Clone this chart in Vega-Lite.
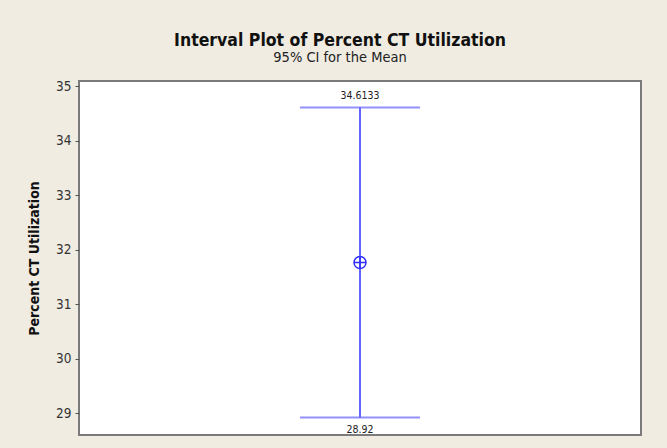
{
  "$schema": "https://vega.github.io/schema/vega-lite/v6.json",
  "autosize": {"type": "none"},
  "width": 562,
  "height": 354,
  "padding": {"left": 79, "top": 81, "right": 26, "bottom": 13},
  "background": "#f0ece2",
  "title": {
    "text": "Interval Plot of Percent CT Utilization",
    "subtitle": "95% CI for the Mean",
    "anchor": "middle",
    "dx": -20,
    "offset": 15,
    "font": "DejaVu Sans Condensed",
    "fontSize": 17.5,
    "fontWeight": "bold",
    "color": "#111111",
    "subtitleFont": "DejaVu Sans Condensed",
    "subtitleFontSize": 14.5,
    "subtitleColor": "#222222",
    "subtitlePadding": 1
  },
  "config": {
    "view": {"stroke": "#7a7a7a", "strokeWidth": 2, "fill": "white"}
  },
  "data": {"values": [{"group": "Percent CT Utilization", "mean": 31.7667, "lower": 28.92, "upper": 34.6133}]},
  "encoding": {
    "x": {"field": "group", "type": "nominal", "axis": null}
  },
  "layer": [
    {
      "mark": {"type": "rule", "color": "#6464ff", "strokeWidth": 2},
      "encoding": {
        "y": {
          "field": "lower", "type": "quantitative",
          "scale": {"domain": [28.6, 35.1], "nice": false, "zero": false},
          "axis": {
            "title": "Percent CT Utilization",
            "titleFont": "DejaVu Sans Condensed",
            "titleFontSize": 14,
            "titleFontWeight": "bold",
            "titleColor": "#111111",
            "titlePadding": 14,
            "values": [29, 30, 31, 32, 33, 34, 35],
            "labelFont": "DejaVu Sans Condensed",
            "labelFontSize": 13.5,
            "labelColor": "#333333",
            "labelPadding": 4,
            "tickSize": 4,
            "tickColor": "#555555",
            "domain": false,
            "grid": false
          }
        },
        "y2": {"field": "upper"}
      }
    },
    {
      "mark": {"type": "tick", "color": "#6464ff", "size": 120, "thickness": 2},
      "encoding": {"y": {"field": "upper", "type": "quantitative"}}
    },
    {
      "mark": {"type": "tick", "color": "#6464ff", "size": 120, "thickness": 2},
      "encoding": {"y": {"field": "lower", "type": "quantitative"}}
    },
    {
      "mark": {"type": "point", "shape": "M-1,0A1,1 0 1,1 1,0A1,1 0 1,1 -1,0ZM-1,0L1,0M0,-1L0,1", "size": 144, "color": "#3030ff", "filled": false, "strokeWidth": 1.5, "opacity": 1},
      "encoding": {"y": {"field": "mean", "type": "quantitative"}}
    },
    {
      "mark": {"type": "text", "dy": -12, "font": "DejaVu Sans Condensed", "fontSize": 10.5, "color": "#222222"},
      "encoding": {"y": {"field": "upper", "type": "quantitative"}, "text": {"field": "upper", "type": "quantitative", "format": ".6~g"}}
    },
    {
      "mark": {"type": "text", "dy": 12, "font": "DejaVu Sans Condensed", "fontSize": 10.5, "color": "#222222"},
      "encoding": {"y": {"field": "lower", "type": "quantitative"}, "text": {"field": "lower", "type": "quantitative", "format": ".6~g"}}
    }
  ]
}
